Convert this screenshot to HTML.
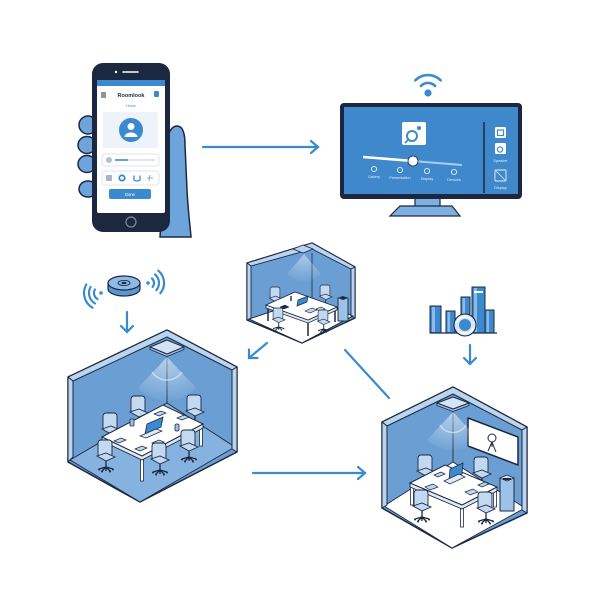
<!DOCTYPE html>
<html><head><meta charset="utf-8"><style>
html,body{margin:0;padding:0;background:#fff;width:600px;height:600px;overflow:hidden}
svg{display:block}
text{font-family:"Liberation Sans",sans-serif}
</style></head><body>
<svg width="600" height="600" viewBox="0 0 600 600" xmlns="http://www.w3.org/2000/svg">
<defs>
<g id="ch">
<rect x="-7" y="0" width="14" height="17" rx="3" fill="#c2d9f1" stroke="#1c2840" stroke-width="0.9"/>
<polygon points="-8,16 1,13 10,17 1,21" fill="#c2d9f1" stroke="#1c2840" stroke-width="0.9"/>
<line x1="1" y1="21" x2="1" y2="27" stroke="#1c2840" stroke-width="1.3"/>
<path d="M1,27 L-6,29 M1,27 L8,29 M1,27 L-3,31 M1,27 L5,31 M1,27 L1,31" stroke="#1c2840" stroke-width="1.3" fill="none"/>
<circle cx="-6" cy="29.5" r="1" fill="#1c2840"/><circle cx="8" cy="29.5" r="1" fill="#1c2840"/>
<circle cx="-3" cy="31.5" r="1" fill="#1c2840"/><circle cx="5" cy="31.5" r="1" fill="#1c2840"/>
</g>
<radialGradient id="glow" cx="0.5" cy="0" r="1">
<stop offset="0" stop-color="#fff" stop-opacity="0.75"/><stop offset="1" stop-color="#fff" stop-opacity="0.05"/>
</radialGradient>
</defs>

<!-- ===== PHONE + HAND ===== -->
<path d="M166,150 C166,138 170,126 177,126 C183,126 185,134 185,145 L187,190 C188,210 190,225 191,237 L160,237 Z" fill="#6da4dc" stroke="#1c2840" stroke-width="1.5"/>
<ellipse cx="88" cy="125" rx="9" ry="9" fill="#6da4dc" stroke="#1c2840" stroke-width="1.5"/>
<ellipse cx="87" cy="145" rx="9" ry="8.5" fill="#6da4dc" stroke="#1c2840" stroke-width="1.5"/>
<ellipse cx="87" cy="164" rx="9" ry="8.5" fill="#6da4dc" stroke="#1c2840" stroke-width="1.5"/>
<ellipse cx="88" cy="189" rx="9" ry="8" fill="#6da4dc" stroke="#1c2840" stroke-width="1.5"/>
<rect x="92" y="63" width="78" height="169" rx="11" fill="#1c2840"/>
<rect x="97" y="80" width="68" height="133" rx="2" fill="#fff"/>
<rect x="97" y="80" width="68" height="6" fill="#3b8ad0"/>
<line x1="123" y1="72" x2="138" y2="72" stroke="#fff" stroke-width="1.5" stroke-linecap="round"/>
<circle cx="116" cy="72" r="1.2" fill="#fff"/>
<circle cx="131" cy="222" r="5" fill="none" stroke="#7a8aa5" stroke-width="1.2"/>
<path d="M101,93 H106 M101,95 H106 M101,97 H106" stroke="#1c2840" stroke-width="0.9"/>
<text x="131" y="97" font-size="5.5" font-weight="bold" fill="#1c2840" text-anchor="middle">Roomlook</text>
<rect x="154" y="91" width="5" height="6" rx="1" fill="#3b8ad0"/>
<text x="131" y="107" font-size="3.5" fill="#3b8ad0" text-anchor="middle">Home</text>
<rect x="103" y="112" width="55" height="36" rx="2" fill="#eef3f9"/>
<circle cx="131" cy="130" r="12" fill="#3b8ad0"/>
<circle cx="131" cy="126.5" r="3.5" fill="#fff"/>
<path d="M124.5,137 C125,131 137,131 137.5,137 Z" fill="#fff"/>
<rect x="102" y="154" width="57" height="12" rx="3" fill="#fff" stroke="#d5deea" stroke-width="0.8"/>
<circle cx="109" cy="160" r="3" fill="#b5bfcc"/>
<line x1="115" y1="160" x2="128" y2="160" stroke="#3b8ad0" stroke-width="1.6"/>
<line x1="128" y1="160" x2="155" y2="160" stroke="#d5dce6" stroke-width="1.4"/>
<rect x="102" y="171" width="57" height="14" rx="3" fill="#fff" stroke="#d5deea" stroke-width="0.8"/>
<rect x="106" y="175" width="6" height="6" fill="#aab5c4"/>
<circle cx="122" cy="178" r="2.7" fill="none" stroke="#3b8ad0" stroke-width="1.8"/>
<path d="M134,175.5 L134,180 Q137,182 140,180 L140,175.5" fill="none" stroke="#3b8ad0" stroke-width="1.3"/>
<path d="M147,178 H153 M150,175 L149,181" stroke="#9aa7b8" stroke-width="1"/>
<rect x="109" y="189" width="42" height="10" rx="2" fill="#3b8ad0"/>
<text x="130" y="196" font-size="4.2" fill="#fff" text-anchor="middle">Done</text>

<!-- arrow phone -> tv -->
<g stroke="#3b8ad0" stroke-width="2.2" stroke-linecap="round" fill="none">
<line x1="203" y1="147" x2="318" y2="147"/>
<path d="M311,141 L318,147 L311,153"/>
</g>

<!-- ===== TV ===== -->
<circle cx="428" cy="93" r="3.6" fill="#3b8ad0"/>
<path d="M420.9,85.9 A10,10 0 0,1 435.1,85.9" stroke="#3b8ad0" stroke-width="2.6" fill="none" stroke-linecap="round"/>
<path d="M415.3,80.3 A18,18 0 0,1 440.7,80.3" stroke="#3b8ad0" stroke-width="2.6" fill="none" stroke-linecap="round"/>
<rect x="415" y="197" width="25" height="11" fill="#7fb0e2" stroke="#1c2840" stroke-width="1.2"/>
<polygon points="400,206 452,206 460,216 390,216" fill="#7fb0e2" stroke="#1c2840" stroke-width="1.2"/>
<rect x="340" y="103" width="182" height="96" rx="4" fill="#1c2840"/>
<rect x="344" y="107" width="174" height="87" fill="#3f88cb"/>
<rect x="402" y="122" width="24" height="23" rx="2" fill="#fff"/>
<circle cx="412" cy="136" r="5" fill="none" stroke="#3b8ad0" stroke-width="2"/>
<circle cx="419" cy="128" r="2" fill="#3b8ad0"/>
<line x1="408" y1="140" x2="405" y2="143" stroke="#3b8ad0" stroke-width="1.8"/>
<line x1="363" y1="157" x2="413" y2="161" stroke="#fff" stroke-width="2.5"/>
<line x1="413" y1="161" x2="462" y2="165" stroke="#a9cbee" stroke-width="2"/>
<circle cx="413" cy="161" r="5" fill="#fff" stroke="#1c2840" stroke-width="0.8"/>
<g fill="none" stroke="#e6f0fa" stroke-width="0.9">
<circle cx="374" cy="169" r="2.6"/><circle cx="400" cy="170" r="2.6"/><circle cx="427" cy="171" r="2.6"/><circle cx="454" cy="172" r="2.6"/>
</g>
<g font-size="3.8" fill="#e6f0fa" text-anchor="middle">
<text x="374" y="178">Gallery</text><text x="400" y="179">Presentation</text><text x="427" y="180">Display</text><text x="454" y="181">Devices</text>
</g>
<line x1="484" y1="122" x2="484" y2="193" stroke="#1c2840" stroke-width="1.5"/>
<rect x="495" y="127" width="11" height="11" rx="1.5" fill="#fff"/>
<rect x="497.5" y="130" width="6" height="5.5" fill="none" stroke="#3b8ad0" stroke-width="1.2"/>
<rect x="495" y="143" width="11" height="11" rx="1.5" fill="#fff"/>
<circle cx="500" cy="149.5" r="2.6" fill="none" stroke="#3b8ad0" stroke-width="1.3"/>
<text x="500.5" y="162" font-size="3.8" fill="#e6f0fa" text-anchor="middle">Speaker</text>
<rect x="495" y="170" width="11" height="11" rx="1" fill="none" stroke="#e6f0fa" stroke-width="0.9"/>
<line x1="496" y1="171" x2="505" y2="180" stroke="#e6f0fa" stroke-width="0.8"/>
<text x="500.5" y="189" font-size="3.8" fill="#e6f0fa" text-anchor="middle">Display</text>

<!-- ===== SPEAKER ===== -->
<path d="M108,283 L108,289 A16,7 0 0,0 140,289 L140,283 Z" fill="#5a96d2" stroke="#1c2840" stroke-width="1.2"/>
<ellipse cx="124" cy="283" rx="16" ry="7" fill="#8dbbe6" stroke="#1c2840" stroke-width="1.2"/>
<ellipse cx="124" cy="283" rx="6" ry="2.6" fill="none" stroke="#1c2840" stroke-width="0.9"/>
<ellipse cx="124" cy="283" rx="2.6" ry="1.1" fill="#1c2840"/>
<g stroke="#3b8ad0" stroke-width="2.2" fill="none" stroke-linecap="round">
<circle cx="101" cy="293" r="1.8" fill="#3b8ad0" stroke="none"/>
<path d="M94.9,289.5 A7,7 0 0,0 97.5,299.1"/>
<path d="M90.6,287 A12,12 0 0,0 95,303.4"/>
<path d="M86.3,284.5 A17,17 0 0,0 92.5,307.7"/>
<circle cx="148" cy="283" r="1.8" fill="#3b8ad0" stroke="none"/>
<path d="M151.9,278.4 A6,6 0 0,1 152.6,286.9"/>
<path d="M155.1,274.6 A11,11 0 0,1 156.4,290.1"/>
<path d="M158.3,270.7 A16,16 0 0,1 160.3,293.3"/>
<line x1="127" y1="312" x2="127" y2="332"/>
<path d="M121,326 L127,332 L133,326"/>
</g>

<!-- ===== CHART ===== -->
<g stroke="#1c2840" stroke-width="1">
<rect x="430" y="306" width="11" height="27" fill="#3b8ad0"/>
<rect x="446" y="311" width="9" height="22" fill="#3b8ad0"/>
<rect x="461" y="297" width="9" height="36" fill="#3b8ad0"/>
<rect x="472" y="287" width="13" height="46" fill="#3b8ad0"/>
<rect x="485" y="310" width="9" height="23" fill="#3b8ad0"/>
</g>
<g fill="#8dbbe6">
<rect x="432" y="307" width="3" height="25"/><rect x="447.5" y="312" width="2.5" height="20"/>
<rect x="462.5" y="298" width="2.5" height="34"/><rect x="474" y="288" width="3" height="44"/><rect x="486.5" y="311" width="2.5" height="21"/>
</g>
<rect x="474" y="291" width="9" height="2" fill="#fff"/>
<line x1="430" y1="333" x2="497" y2="333" stroke="#1c2840" stroke-width="1.3"/>
<circle cx="465" cy="325" r="11" fill="#d6e6f6" stroke="#1c2840" stroke-width="1.1"/>
<circle cx="465" cy="325" r="6" fill="#3b8ad0"/>
<path d="M457,322 A8.5,8.5 0 0,1 471,319 M473,328 A8.5,8.5 0 0,1 459,331" fill="none" stroke="#fff" stroke-width="1.6"/>
<g stroke="#3b8ad0" stroke-width="2.2" fill="none" stroke-linecap="round">
<line x1="470" y1="345" x2="470" y2="364"/>
<path d="M464,358 L470,364 L476,358"/>
</g>

<!-- ===== MIDDLE ROOM ===== -->
<g stroke="#1c2840" stroke-linejoin="round">
<polygon points="247,263 312,243 355,267 355,318 302,343 247,320" fill="#6b9fd4" stroke-width="1.4"/>
<polygon points="249,319 312,298 353,316 302,343" fill="#fff" stroke-width="0.8"/>
<polygon points="247,263 312,243 355,267 351,269 312,249 251,266" fill="#bcd5ef" stroke-width="0.9"/>
<polygon points="247,263 251,266 251,318 247,320" fill="#bcd5ef" stroke-width="0.9"/>
<polygon points="351,269 355,267 355,318 351,316" fill="#bcd5ef" stroke-width="0.9"/>
<line x1="312" y1="253" x2="312" y2="298" stroke-width="0.8"/>
<polygon points="293,249 303,245 313,249 303,253" fill="#bcd5ef" stroke-width="0.9"/>
</g>
<path d="M304,254 L287,274 A24,24 0 0,0 321,274 Z" fill="url(#glow)" opacity="0.6"/>
<polygon points="249,319 312,298 353,316 302,343" fill="none" stroke="#1c2840" stroke-width="0.8"/>
<use href="#ch" transform="translate(275,287) scale(0.7)"/>
<use href="#ch" transform="translate(325,285) scale(0.7)"/>
<rect x="338" y="298" width="10" height="23" fill="#9cc2e8" stroke="#1c2840" stroke-width="0.9"/>
<polygon points="338,298 343,296 348,298 343,300" fill="#1c2840"/>
<g stroke="#1c2840">
<line x1="268" y1="308" x2="268" y2="321" stroke-width="1.5"/>
<line x1="308" y1="323" x2="308" y2="336" stroke-width="1.5"/>
<line x1="335" y1="310" x2="335" y2="322" stroke-width="1.5"/>
<polygon points="266,305 308,320 337,307 337,310 308,323 266,308" fill="#dfe9f5" stroke-width="0.8"/>
<polygon points="266,305 295,292 337,307 308,320" fill="#fff" stroke-width="0.9"/>
<polygon points="297,306 307,302 308,296 298,300" fill="#3b8ad0" stroke-width="0.7"/>
<polygon points="280,307 285,305 289,307 284,309" fill="#1c2840" stroke-width="0.5"/>
<polygon points="305,311 312,308 317,310 310,313" fill="#bcd5ef" stroke-width="0.6"/>
<polygon points="316,309 321,307 325,309 320,311" fill="#bcd5ef" stroke-width="0.6"/>
<line x1="291" y1="296" x2="291" y2="301" stroke-width="1.4"/>
</g>
<use href="#ch" transform="translate(278,308) scale(0.7)"/>
<use href="#ch" transform="translate(323,310) scale(0.7)"/>

<!-- arrows middle -->
<g stroke="#3b8ad0" stroke-width="2.2" fill="none" stroke-linecap="round">
<line x1="267" y1="343" x2="249" y2="358"/>
<path d="M249,349.5 L249,358 L257.5,358"/>
<line x1="345" y1="350" x2="389" y2="398"/>
<line x1="253" y1="473" x2="365" y2="473"/>
<path d="M358,467 L365,473 L358,479"/>
</g>

<!-- ===== BIG ROOM ===== -->
<g stroke="#1c2840" stroke-linejoin="round">
<polygon points="68,377 167,330 237,367 237,452 140,502 68,462" fill="#6b9fd4" stroke-width="1.5"/>
<polygon points="70,460 167,403 235,447 140,502" fill="#86b2e0" stroke-width="0.9"/>
<polygon points="68,377 167,330 237,367 232,370 167,337 73,381" fill="#bcd5ef" stroke-width="1"/>
<polygon points="68,377 73,381 73,457 68,462" fill="#bcd5ef" stroke-width="1"/>
<polygon points="232,370 237,367 237,452 232,449" fill="#bcd5ef" stroke-width="1"/>
<line x1="167" y1="354" x2="167" y2="403" stroke-width="0.9"/>
<polygon points="150,347 167,354 184,347 184,349.5 167,356.5 150,349.5" fill="#9cc2e8" stroke-width="0.8"/>
<polygon points="150,347 167,340 184,347 167,354" fill="#d4e4f5" stroke-width="1"/>
</g>
<path d="M167,357 L138,388 A40,40 0 0,0 196,388 Z" fill="url(#glow)" opacity="0.7"/>
<path d="M152,372 A18,18 0 0,0 182,372" fill="none" stroke="#fff" stroke-opacity="0.5" stroke-width="1.5"/>
<use href="#ch" transform="translate(110,413)"/>
<use href="#ch" transform="translate(138,396)"/>
<use href="#ch" transform="translate(194,395)"/>
<g stroke="#1c2840">
<rect x="102.5" y="439" width="3" height="20" fill="#fff" stroke-width="0.8"/>
<rect x="140.5" y="458" width="3" height="23" fill="#fff" stroke-width="0.8"/>
<rect x="199.5" y="426" width="3" height="20" fill="#fff" stroke-width="0.8"/>
<polygon points="102,437 142,456 203,424 203,428 142,460 102,441" fill="#dfe9f5" stroke-width="0.9"/>
<polygon points="102,437 163,405 203,424 142,456" fill="#fff" stroke-width="1"/>
<polygon points="145,434 161,427 163,417 147,424" fill="#3b8ad0" stroke-width="0.8"/>
<polygon points="140,436 156,429 162,431 146,438" fill="#dfe9f5" stroke-width="0.7"/>
<polygon points="114,441 121,438 126,440 119,443" fill="#bcd5ef" stroke-width="0.7"/>
<polygon points="135,449 142,446 147,448 140,451" fill="#bcd5ef" stroke-width="0.7"/>
<polygon points="152,443 159,440 164,442 157,445" fill="#bcd5ef" stroke-width="0.7"/>
<polygon points="177,418 184,415 189,417 182,420" fill="#bcd5ef" stroke-width="0.7"/>
<polygon points="154,414 161,411 166,413 159,416" fill="#bcd5ef" stroke-width="0.7"/>
<rect x="130" y="419" width="4" height="7" rx="1" fill="#9cc2e8" stroke-width="0.8"/>
<rect x="175" y="424" width="4" height="7" rx="1.5" fill="#9cc2e8" stroke-width="0.8"/>
</g>
<use href="#ch" transform="translate(105,440)"/>
<use href="#ch" transform="translate(159,443)"/>
<use href="#ch" transform="translate(188,430)"/>

<!-- ===== RIGHT ROOM ===== -->
<g stroke="#1c2840" stroke-linejoin="round">
<polygon points="382,422 453,387 527,427 527,513 452,548 382,508" fill="#6b9fd4" stroke-width="1.5"/>
<polygon points="384,506 453,462 525,508 452,548" fill="#fff" stroke-width="0.9"/>
<polygon points="382,422 453,387 527,427 522,430 453,394 387,426" fill="#bcd5ef" stroke-width="1"/>
<polygon points="382,422 387,426 387,505 382,508" fill="#bcd5ef" stroke-width="1"/>
<polygon points="522,430 527,427 527,513 522,510" fill="#bcd5ef" stroke-width="1"/>
<line x1="453" y1="409" x2="453" y2="462" stroke-width="0.9"/>
<polygon points="437,403 453,409 469,403 469,405.5 453,411.5 437,405.5" fill="#9cc2e8" stroke-width="0.8"/>
<polygon points="437,403 453,397 469,403 453,409" fill="#d4e4f5" stroke-width="1"/>
<polygon points="468,418 518,437 518,465 468,446" fill="#fff" stroke-width="1.5"/>
<circle cx="492" cy="438" r="4" fill="none" stroke-width="1"/>
<path d="M492,442 L488,451 M492,442 L496,452 M492,442 L492,447" fill="none" stroke-width="1"/>
<rect x="500" y="478" width="14" height="33" fill="#9cc2e8" stroke-width="1"/>
<polygon points="500,478 507,475 514,478 507,481" fill="#d4e4f5" stroke-width="0.8"/>
<rect x="503" y="478" width="8" height="2" fill="#1c2840" stroke="none"/>
</g>
<path d="M453,412 L427,440 A38,38 0 0,0 479,440 Z" fill="url(#glow)" opacity="0.7"/>
<path d="M440,425 A15,15 0 0,0 466,425" fill="none" stroke="#fff" stroke-opacity="0.5" stroke-width="1.5"/>
<use href="#ch" transform="translate(425,455)"/>
<use href="#ch" transform="translate(481,457)"/>
<g stroke="#1c2840">
<rect x="410.5" y="485" width="3" height="20" fill="#fff" stroke-width="0.8"/>
<rect x="460.5" y="507" width="3" height="20" fill="#fff" stroke-width="0.8"/>
<rect x="493.5" y="489" width="3" height="18" fill="#fff" stroke-width="0.8"/>
<polygon points="410,483 462,505 497,487 497,491 462,509 410,487" fill="#dfe9f5" stroke-width="0.9"/>
<polygon points="410,483 445,465 497,487 462,505" fill="#fff" stroke-width="1"/>
<polygon points="449,480 462,474 463,463 450,469" fill="#3b8ad0" stroke-width="0.8"/>
<polygon points="444,481 459,474 465,477 450,484" fill="#dfe9f5" stroke-width="0.7"/>
<polygon points="425,487 433,484 438,487 430,490" fill="#bcd5ef" stroke-width="0.7"/>
<polygon points="465,492 473,489 478,492 470,495" fill="#bcd5ef" stroke-width="0.7"/>
<polygon points="478,485 485,482 489,484 482,487" fill="#bcd5ef" stroke-width="0.7"/>
<polygon points="434,475 441,472 445,474 438,477" fill="#bcd5ef" stroke-width="0.7"/>
</g>
<use href="#ch" transform="translate(421,490)"/>
<use href="#ch" transform="translate(485,492)"/>
</svg>
</body></html>
